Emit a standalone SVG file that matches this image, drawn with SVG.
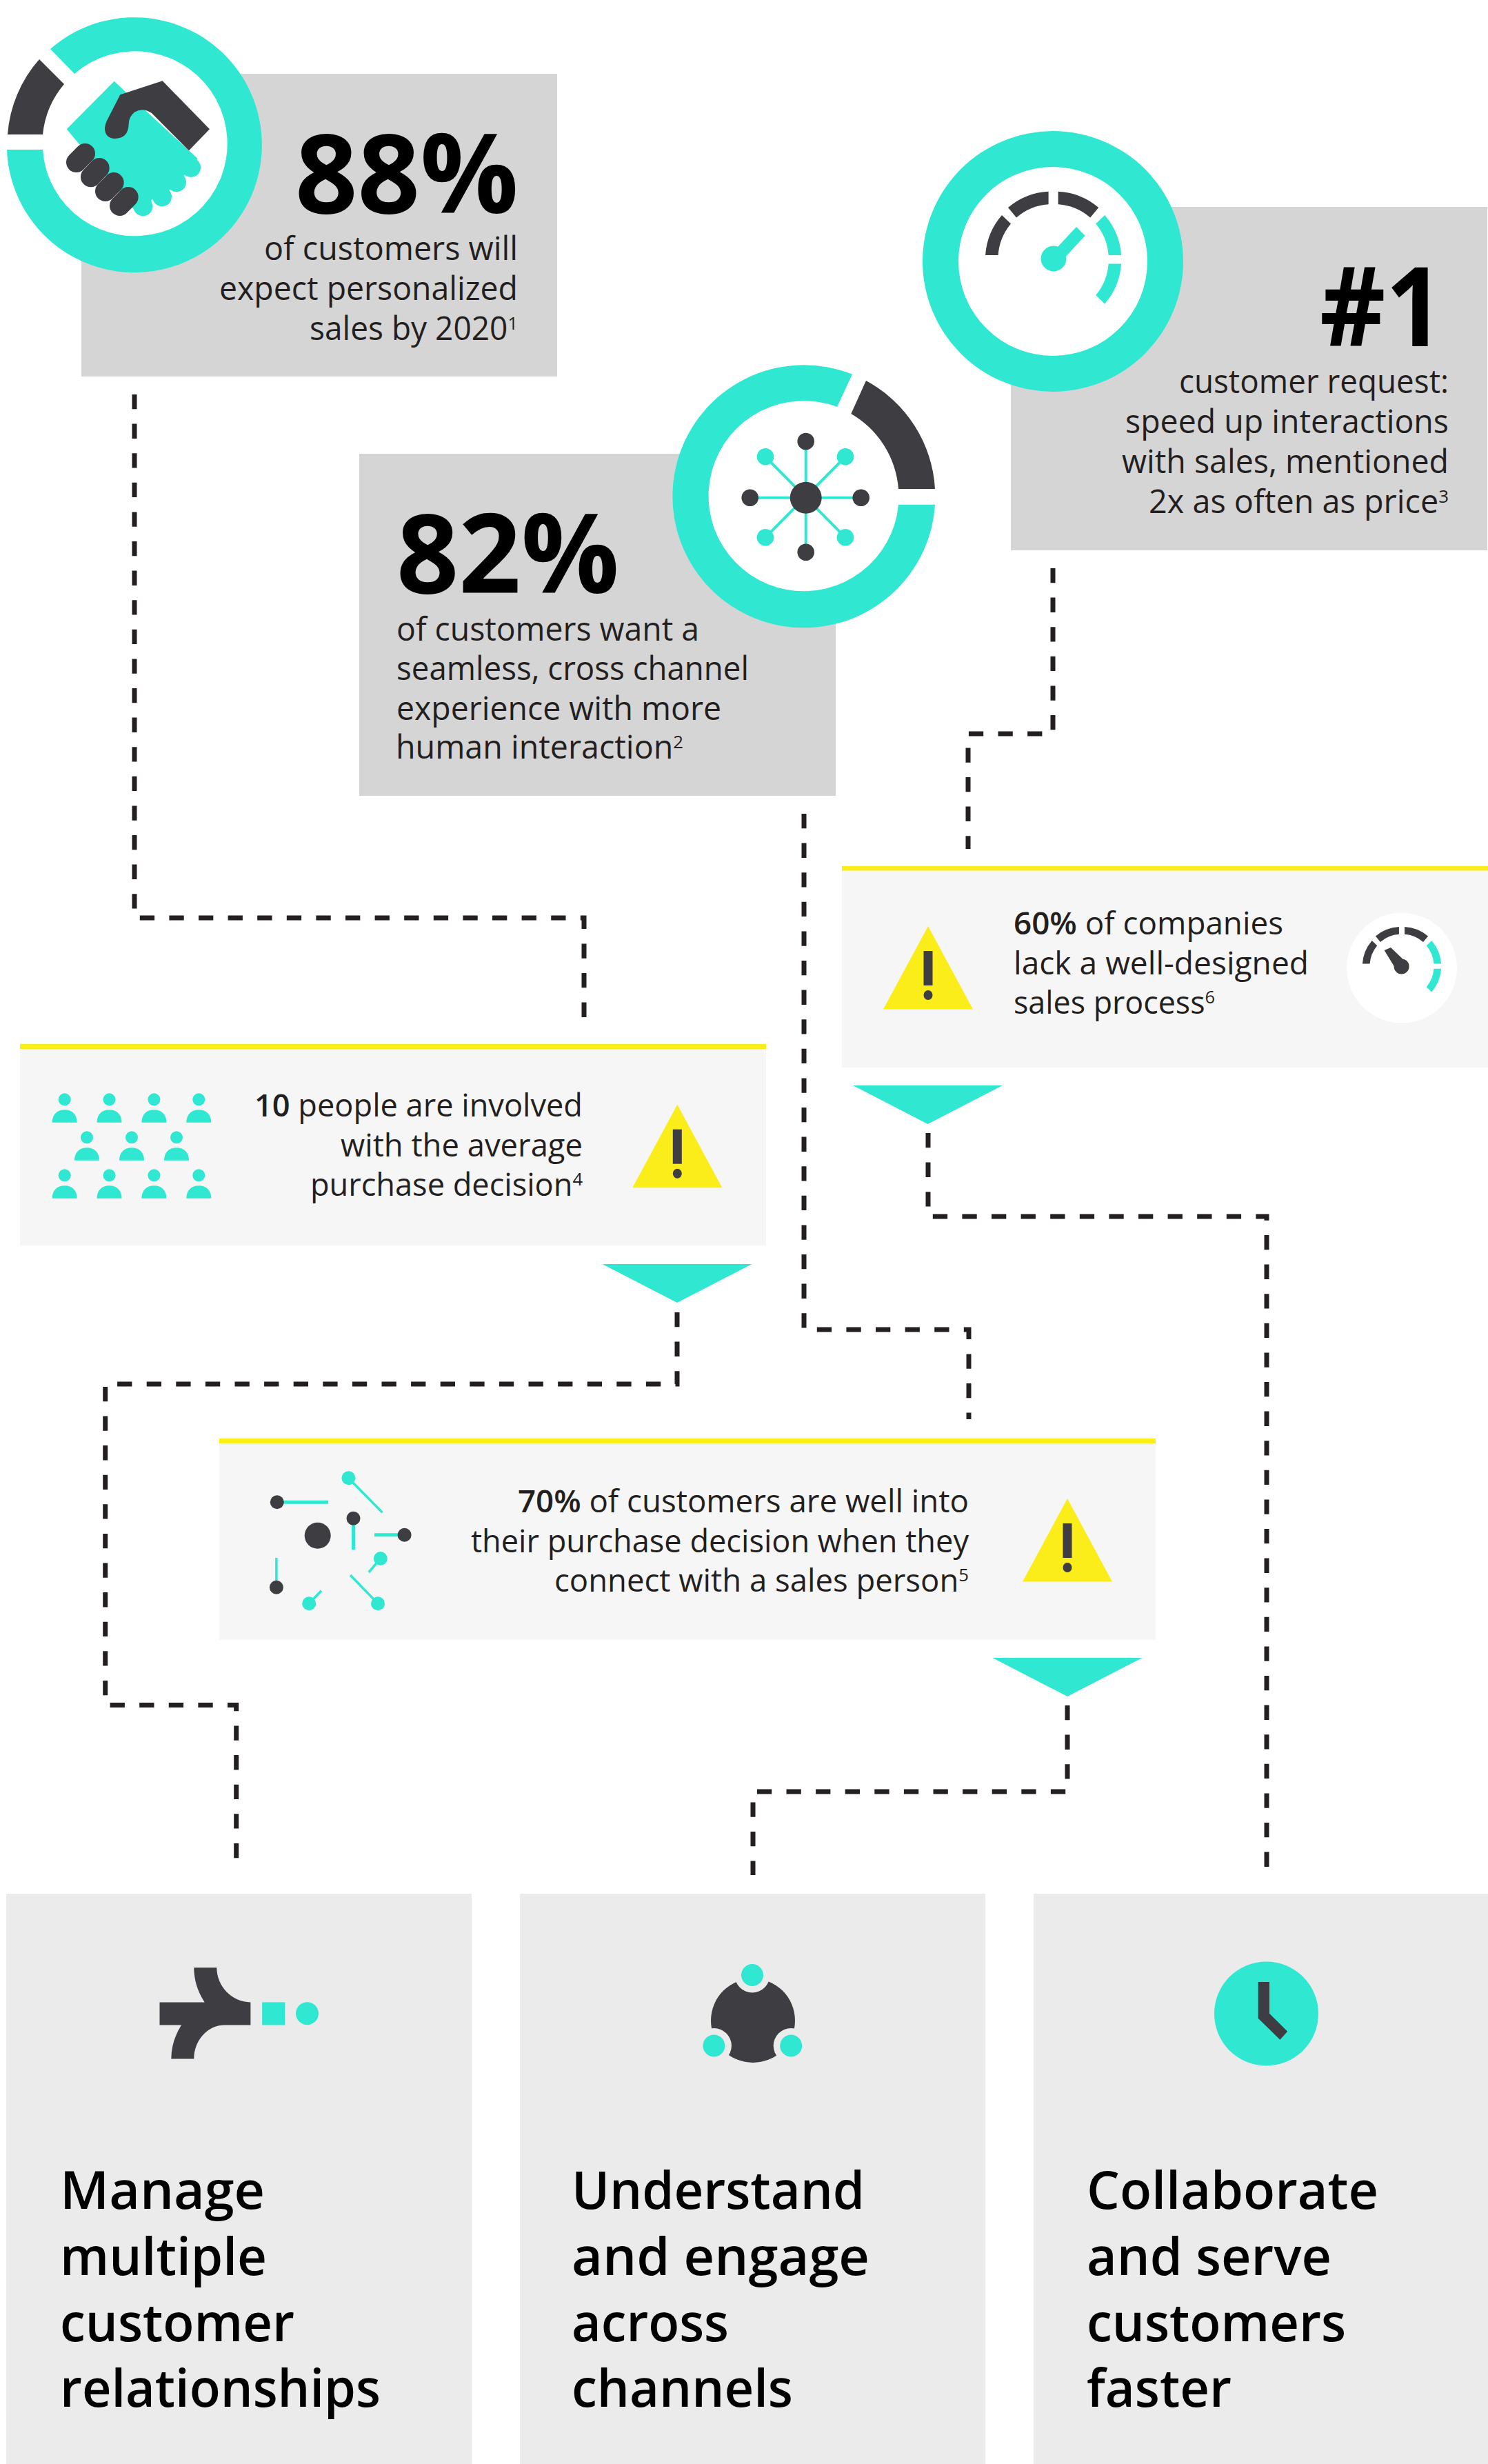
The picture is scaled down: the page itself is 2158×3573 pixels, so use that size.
<svg xmlns="http://www.w3.org/2000/svg" xmlns:xlink="http://www.w3.org/1999/xlink" width="2158" height="3573" viewBox="0 0 2158 3573">
<style>
text{font-family:"Open Sans","Noto Sans","Liberation Sans",sans-serif;fill:#231f20}
.big{font-size:160px;font-weight:700;fill:#000}
.b{font-size:47px;font-weight:500}
.n{font-size:46px}
.h{font-size:76px;font-weight:600;fill:#000}
.s{font-weight:600}
.t{fill:#30e8d2}
.d{fill:#3e3d42}
.w{fill:#fff}
.grey{fill:#d5d5d5}
.warn{fill:#f6f6f6}
.yl{fill:#fbed1a}
.panel{fill:#ebebeb}
.conn{fill:none;stroke:#231f20;stroke-width:7;stroke-dasharray:21.3 21.3}
</style>
<defs>
<g id="warnTri"><polygon class="yl" points="0,0 -65,120.6 65,120.6"/><rect class="d" x="-6.5" y="36" width="13" height="50"/><ellipse class="d" cx="0" cy="100" rx="6.5" ry="7"/></g>
<polygon id="arrow" class="t" points="-108.5,0 108.5,0 0,56"/>
<g id="person"><circle class="t" cx="0" cy="0" r="9"/><path class="t" d="M-18,33.4 C-18,22 -11,15 0,15 C11,15 18,22 18,33.4 Z"/></g>
<g id="gaugeArcs">
<path class="d" d="M-98.5,-6 A98.5,98.5 0 0 1 -74.6,-64 L-61.6,-51.5 A80,80 0 0 0 -80,-6 Z"/>
<path class="d" d="M-65.6,-75 A98.5,98.5 0 0 1 -7,-98.3 L-7,-79.7 A80,80 0 0 0 -53.6,-60.4 Z"/>
<path class="d" d="M7,-98.3 A98.5,98.5 0 0 1 65.6,-75 L53.6,-60.4 A80,80 0 0 0 7,-79.7 Z"/>
<path class="t" d="M74.6,-64 A98.5,98.5 0 0 1 98.5,-6 L80,-6 A80,80 0 0 0 61.6,-51.5 Z"/>
<path class="t" d="M98.5,6.5 A98.5,98.5 0 0 1 74.6,64.5 L61.6,52 A80,80 0 0 0 80,6.5 Z"/>
</g>
</defs>
<rect width="2158" height="3573" fill="#fff"/>
<g id="connectors">
<path class="conn" d="M195,572 V1331 H847 V1481"/>
<path class="conn" d="M1527,824 V1064 H1404 V1231"/>
<path class="conn" d="M1166,1180 V1928 H1405 V2058"/>
<path class="conn" d="M1346,1643 V1764 H1837 V2712"/>
<path class="conn" d="M982,1903 V2007 H152.7 V2472.6 H342.7 V2699"/>
<path class="conn" d="M1548,2473 V2598 H1092 V2719"/>
</g>
<g id="stat-88">
<rect class="grey" x="118" y="107" width="690" height="439"/>
<circle class="w" cx="195" cy="209" r="140"/>
<path class="d" d="M11,195 A185,185 0 0 1 57,86 L93,122 A134,134 0 0 0 62,195 Z"/>
<path class="t" d="M73,71 A185,185 0 1 1 10,217 L62,217 A134,134 0 1 0 108,107 Z"/>
<g transform="translate(0,10) scale(.33333)">
<path class="t" d="M497,323 L290,532 L590,890 L660,840 L740,795 L800,735 L860,660 L600,420 Z"/>
<circle class="t" cx="831" cy="699" r="42"/><circle class="t" cx="768" cy="763" r="42"/><circle class="t" cx="705" cy="826" r="42"/><circle class="t" cx="622" cy="868" r="42"/>
<path class="d" d="M707,322 L912,532 L822,625 L660,462 Q620,435 585,458 Q560,478 560,510 Q558,572 500,573 Q455,570 456,525 Q458,510 465,495 L523,382 Z"/>
<g stroke="#3e3d42" stroke-width="88" stroke-linecap="round" fill="none"><path d="M370,638 L332,676"/><path d="M432,701 L395,740"/><path d="M495,764 L458,802"/><path d="M558,827 L521,865"/></g>
</g>
<text class="big" x="428" y="309" textLength="324" lengthAdjust="spacingAndGlyphs">88%</text>
<text class="b" x="383" y="377" textLength="368" lengthAdjust="spacingAndGlyphs">of customers will</text>
<text class="b" x="318" y="435" textLength="433" lengthAdjust="spacingAndGlyphs">expect personalized</text>
<text class="b" x="449" y="493" textLength="302" lengthAdjust="spacingAndGlyphs">sales by 2020<tspan font-size="26" font-weight="400" dy="-15">1</tspan></text>
</g>
<g id="stat-1">
<rect class="grey" x="1466" y="300" width="691" height="498"/>
<circle class="w" cx="1527" cy="379" r="140"/>
<path class="t" fill-rule="evenodd" d="M1338,379 A189,189 0 1 1 1716,379 A189,189 0 1 1 1338,379 Z M1390,379 A137,137 0 1 0 1664,379 A137,137 0 1 0 1390,379 Z"/>
<use href="#gaugeArcs" transform="translate(1527.6,376)"/>
<circle class="t" cx="1528" cy="375" r="18.5"/>
<polygon class="t" points="1561,329 1573.6,341.7 1545.7,372 1533,359"/>
<text class="big" x="1914" y="502" textLength="180" lengthAdjust="spacingAndGlyphs">#1</text>
<text class="b" x="1710" y="570" textLength="391" lengthAdjust="spacingAndGlyphs">customer request:</text>
<text class="b" x="1632" y="628" textLength="469" lengthAdjust="spacingAndGlyphs">speed up interactions</text>
<text class="b" x="1627" y="686" textLength="474" lengthAdjust="spacingAndGlyphs">with sales, mentioned</text>
<text class="b" x="1666" y="744" textLength="435" lengthAdjust="spacingAndGlyphs">2x as often as price<tspan font-size="26" font-weight="400" dy="-15">3</tspan></text>
</g>
<g id="stat-82">
<rect class="grey" x="521" y="658" width="691" height="496"/>
<circle class="w" cx="1165.5" cy="720.5" r="144"/>
<path class="d" d="M1356,709 A190.5,190.5 0 0 0 1256,552 L1234.3,600 A138,138 0 0 1 1303,709 Z"/>
<path class="t" d="M1236,542.7 A190.5,190.5 0 1 0 1356,731.7 L1303,731.7 A138,138 0 1 1 1214,590 Z"/>
<g stroke="#30e8d2" stroke-width="4" fill="none"><path d="M1168.7,640 V800.7 M1087.7,721.7 H1248.7 M1110,662.3 L1226,779.3 M1226,662.3 L1110,779.3"/></g>
<circle class="d" cx="1168.7" cy="721.7" r="23"/>
<circle class="d" cx="1168.7" cy="640" r="12.3"/><circle class="d" cx="1168.7" cy="800.7" r="12.3"/><circle class="d" cx="1087.7" cy="721.7" r="12.3"/><circle class="d" cx="1248.7" cy="721.7" r="12.3"/>
<circle class="t" cx="1110" cy="662.3" r="12.3"/><circle class="t" cx="1226" cy="662.3" r="12.3"/><circle class="t" cx="1110" cy="779.3" r="12.3"/><circle class="t" cx="1226" cy="779.3" r="12.3"/>
<text class="big" x="575" y="860" textLength="323" lengthAdjust="spacingAndGlyphs">82%</text>
<text class="b" x="575" y="929" textLength="439" lengthAdjust="spacingAndGlyphs">of customers want a</text>
<text class="b" x="575" y="986" textLength="511" lengthAdjust="spacingAndGlyphs">seamless, cross channel</text>
<text class="b" x="575" y="1044" textLength="471" lengthAdjust="spacingAndGlyphs">experience with more</text>
<text class="b" x="574" y="1100" textLength="417" lengthAdjust="spacingAndGlyphs">human interaction<tspan font-size="26" font-weight="400" dy="-15">2</tspan></text>
</g>
<g id="warn-60">
<rect class="warn" x="1221" y="1256" width="937" height="292"/>
<rect class="yl" x="1221" y="1256" width="937" height="6.5"/>
<use href="#warnTri" x="1346" y="1343"/>
<text class="n" x="1470" y="1355" textLength="391" lengthAdjust="spacingAndGlyphs"><tspan class="s">60%</tspan> of companies</text>
<text class="n" x="1470" y="1413" textLength="428" lengthAdjust="spacingAndGlyphs">lack a well-designed</text>
<text class="n" x="1470" y="1470" textLength="292" lengthAdjust="spacingAndGlyphs">sales process<tspan font-size="26" dy="-15">6</tspan></text>
<circle class="w" cx="2033" cy="1403.6" r="80"/>
<use href="#gaugeArcs" transform="translate(2033,1401) scale(.58)"/>
<circle class="d" cx="2032.6" cy="1401.4" r="11"/>
<polygon class="d" points="2007.6,1378 2017,1374 2041,1397 2026,1408"/>
<use href="#arrow" x="1345.5" y="1574"/>
</g>
<g id="warn-10">
<rect class="warn" x="29" y="1514" width="1082" height="292"/>
<rect class="yl" x="29" y="1514" width="1082" height="7"/>
<use href="#person" x="93.7" y="1594.3"/><use href="#person" x="158.5" y="1594.3"/><use href="#person" x="223.4" y="1594.3"/><use href="#person" x="288.3" y="1594.3"/>
<use href="#person" x="126" y="1649.3"/><use href="#person" x="191" y="1649.3"/><use href="#person" x="256" y="1649.3"/>
<use href="#person" x="93.7" y="1704.3"/><use href="#person" x="158.5" y="1704.3"/><use href="#person" x="223.4" y="1704.3"/><use href="#person" x="288.3" y="1704.3"/>
<text class="n" x="369" y="1619" textLength="476" lengthAdjust="spacingAndGlyphs"><tspan class="s">10</tspan> people are involved</text>
<text class="n" x="494" y="1677" textLength="351" lengthAdjust="spacingAndGlyphs">with the average</text>
<text class="n" x="450" y="1734" textLength="395" lengthAdjust="spacingAndGlyphs">purchase decision<tspan font-size="26" dy="-15">4</tspan></text>
<use href="#warnTri" x="982.3" y="1601.7"/>
<use href="#arrow" x="982" y="1833"/>
</g>
<g id="warn-70">
<rect class="warn" x="318" y="2086" width="1358" height="292"/>
<rect class="yl" x="318" y="2086" width="1358" height="7"/>
<g stroke="#30e8d2" fill="none">
<path stroke-width="5" d="M402,2178.3 H476 M512.5,2201.7 V2247 M586,2225.7 H543"/>
<path stroke-width="3.5" d="M505.4,2143.3 L554.5,2193.3 M551.8,2260 L534.8,2280 M400.9,2301.7 V2259 M448.2,2325.3 L466,2306.7 M548,2325.3 L508,2284"/>
</g>
<circle class="d" cx="460.7" cy="2226.7" r="19"/>
<circle class="d" cx="401.8" cy="2178.3" r="10"/><circle class="d" cx="512.5" cy="2201.7" r="10"/><circle class="d" cx="586.6" cy="2225.7" r="10"/><circle class="d" cx="400.9" cy="2301.7" r="10"/>
<circle class="t" cx="505.4" cy="2143.3" r="10"/><circle class="t" cx="551.8" cy="2260" r="10"/><circle class="t" cx="448.2" cy="2325.3" r="10"/><circle class="t" cx="548" cy="2325.3" r="10"/>
<text class="n" x="751" y="2193" textLength="654" lengthAdjust="spacingAndGlyphs"><tspan class="s">70%</tspan> of customers are well into</text>
<text class="n" x="683" y="2251" textLength="722" lengthAdjust="spacingAndGlyphs">their purchase decision when they</text>
<text class="n" x="804" y="2308" textLength="601" lengthAdjust="spacingAndGlyphs">connect with a sales person<tspan font-size="26" dy="-15">5</tspan></text>
<use href="#warnTri" x="1548" y="2173"/>
<use href="#arrow" x="1548" y="2404"/>
</g>
<g id="panel-manage">
<rect class="panel" x="9" y="2746" width="675" height="827"/>
<path class="d" d="M231.5,2903.4 L296.7,2903.4 Q281.3,2880 281.3,2853.3 L314.3,2853.3 C314.3,2880 336,2903.4 363.4,2903.4 L363.4,2936.5 L326,2936.5 C300,2936.5 281.3,2960 281.3,2985.5 L248.3,2985.5 Q248.3,2960 263,2936.5 L231.5,2936.5 Z"/>
<rect class="t" x="380.2" y="2903.4" width="33" height="33.1"/>
<circle class="t" cx="445.5" cy="2919.7" r="16.5"/>
<text class="h" x="87" y="3203" textLength="297" lengthAdjust="spacingAndGlyphs">Manage</text>
<text class="h" x="87" y="3299" textLength="300" lengthAdjust="spacingAndGlyphs">multiple</text>
<text class="h" x="87" y="3395" textLength="340" lengthAdjust="spacingAndGlyphs">customer</text>
<text class="h" x="87" y="3490" textLength="465" lengthAdjust="spacingAndGlyphs">relationships</text>
</g>
<g id="panel-understand">
<rect class="panel" x="754" y="2746" width="675" height="827"/>
<circle class="d" cx="1092" cy="2930" r="61"/>
<circle class="panel" cx="1091" cy="2864" r="25.5"/><circle class="panel" cx="1035.4" cy="2966.5" r="25.5"/><circle class="panel" cx="1147.2" cy="2966.5" r="25.5"/>
<circle class="t" cx="1091" cy="2864" r="16"/><circle class="t" cx="1035.4" cy="2966.5" r="16"/><circle class="t" cx="1147.2" cy="2966.5" r="16"/>
<text class="h" x="829" y="3203" textLength="425" lengthAdjust="spacingAndGlyphs">Understand</text>
<text class="h" x="829" y="3299" textLength="432" lengthAdjust="spacingAndGlyphs">and engage</text>
<text class="h" x="829" y="3395" textLength="228" lengthAdjust="spacingAndGlyphs">across</text>
<text class="h" x="829" y="3490" textLength="321" lengthAdjust="spacingAndGlyphs">channels</text>
</g>
<g id="panel-collaborate">
<rect class="panel" x="1499" y="2746" width="659" height="827"/>
<circle class="t" cx="1836.5" cy="2920" r="75.5"/>
<polygon class="d" points="1824.7,2874 1841,2874 1841,2919.7 1867.2,2945.8 1856.4,2957.8 1824.7,2926.7"/>
<text class="h" x="1576" y="3203" textLength="423" lengthAdjust="spacingAndGlyphs">Collaborate</text>
<text class="h" x="1576" y="3299" textLength="355" lengthAdjust="spacingAndGlyphs">and serve</text>
<text class="h" x="1576" y="3395" textLength="376" lengthAdjust="spacingAndGlyphs">customers</text>
<text class="h" x="1576" y="3490" textLength="210" lengthAdjust="spacingAndGlyphs">faster</text>
</g>
</svg>
